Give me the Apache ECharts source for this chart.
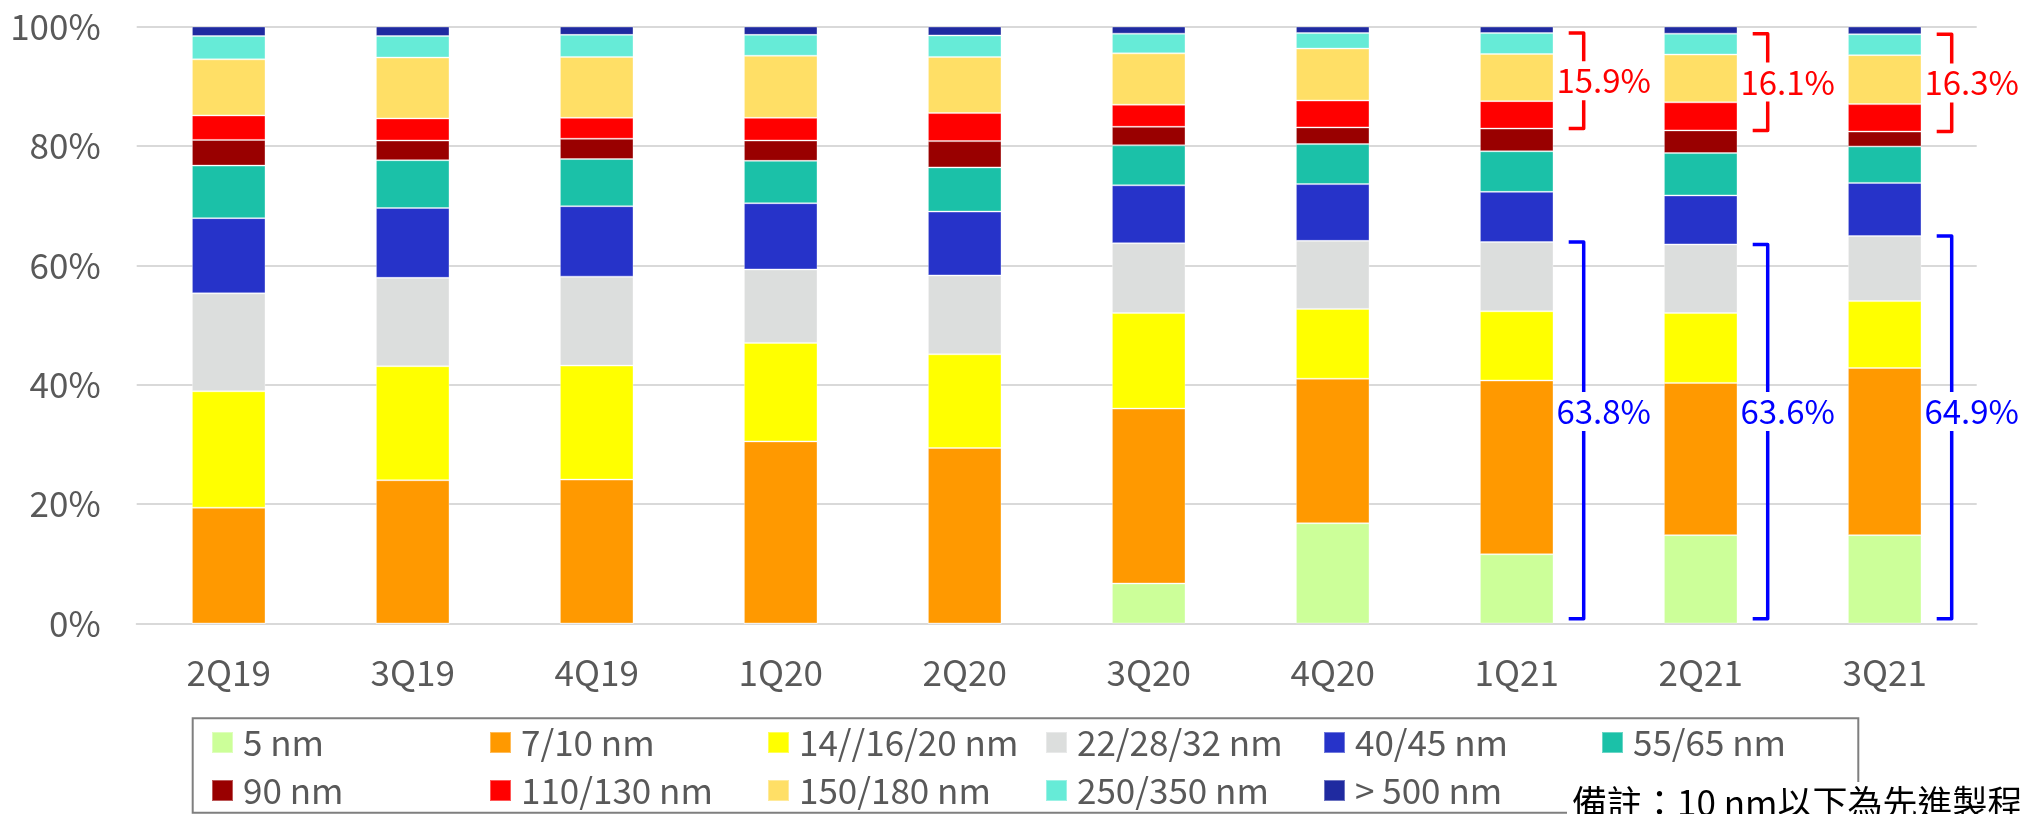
<!DOCTYPE html>
<html>
<head>
    <meta charset="utf-8">
    <title></title>
    <script src="https://cdn.jsdelivr.net/npm/echarts@6/dist/echarts.min.js"></script>
</head>
<body style="margin:0;background:#fff;">
<div id="main" style="width:2022px;height:814px;"></div>
<script type="text/javascript">
    // 季度
    var quarters = ['2Q19', '3Q19', '4Q19', '1Q20', '2Q20', '3Q20', '4Q20', '1Q21', '2Q21', '3Q21'];

    // 各製程占比 (%)
    var nm5      = [0, 0, 0, 0, 0, 6.7, 16.8, 11.6, 14.8, 14.8];
    var nm7_10   = [19.4, 24.0, 24.1, 30.5, 29.4, 29.3, 24.2, 29.1, 25.5, 28.0];
    var nm14_20  = [19.5, 19.1, 19.1, 16.5, 15.7, 16.0, 11.7, 11.6, 11.7, 11.2];
    var nm22_32  = [16.4, 14.8, 14.9, 12.3, 13.2, 11.7, 11.4, 11.6, 11.5, 10.9];
    var nm40_45  = [12.6, 11.7, 11.8, 11.1, 10.7, 9.7, 9.5, 8.4, 8.2, 8.9];
    var nm55_65  = [8.8, 8.0, 7.9, 7.1, 7.4, 6.7, 6.7, 6.8, 7.1, 6.1];
    var nm90     = [4.3, 3.3, 3.4, 3.4, 4.4, 3.1, 2.8, 3.8, 3.8, 2.5];
    var nm110_130 = [4.1, 3.7, 3.5, 3.8, 4.7, 3.7, 4.5, 4.6, 4.7, 4.6];
    var nm150_180 = [9.4, 10.2, 10.2, 10.4, 9.4, 8.6, 8.7, 7.9, 8.0, 8.2];
    var nm250_350 = [3.9, 3.6, 3.7, 3.5, 3.6, 3.3, 2.6, 3.5, 3.5, 3.5];
    var nm500    = [1.6, 1.6, 1.4, 1.4, 1.5, 1.2, 1.1, 1.1, 1.2, 1.3];

    var seriesNames = ['5 nm', '7/10 nm', '14//16/20 nm', '22/28/32 nm', '40/45 nm', '55/65 nm',
        '90 nm', '110/130 nm', '150/180 nm', '250/350 nm', '> 500 nm'];
    var seriesData = [nm5, nm7_10, nm14_20, nm22_32, nm40_45, nm55_65, nm90, nm110_130, nm150_180, nm250_350, nm500];

    // 括號標註
    var noteQuarters = ['1Q21', '2Q21', '3Q21'];
    var advancedText = ['63.8%', '63.6%', '64.9%'];   // 22nm以下合計
    var matureText = ['15.9%', '16.1%', '16.3%'];     // 110~350nm合計

    var colors = ['#CCFF99', '#FF9900', '#FFFF00', '#DCDEDD', '#2633C9', '#1BC1A8',
        '#990000', '#FF0000', '#FFDF66', '#66EBD7', '#1F2AA0'];

    var font = '"Noto Sans CJK TC", "Noto Sans", sans-serif';

    function cum(i, upto) {
        var s = 0;
        for (var k = 0; k < upto; k++) s += seriesData[k][i];
        return s;
    }

    var blueData = noteQuarters.map(function (q) {
        var i = quarters.indexOf(q);
        return [i, 0.8, cum(i, 4), 35.5];
    });
    var redData = noteQuarters.map(function (q) {
        var i = quarters.indexOf(q);
        var lo = cum(i, 7), hi = cum(i, 10);
        return [i, lo, hi, (lo + hi) / 2];
    });

    function bracket(color, labels) {
        return function (params, api) {
            var c = api.value(0);
            var pLo = api.coord([c, api.value(1)]);
            var pHi = api.coord([c, api.value(2)]);
            var pT = api.coord([c, api.value(3)]);
            var x = pLo[0] + 67;
            return {
                type: 'group',
                children: [{
                    type: 'polyline',
                    shape: { points: [[x - 15, pHi[1]], [x, pHi[1]], [x, pLo[1]], [x - 15, pLo[1]]] },
                    style: { stroke: color, lineWidth: 3.5, fill: null, lineJoin: 'round' }
                }, {
                    type: 'text',
                    x: pLo[0] + 87,
                    y: pT[1],
                    style: {
                        text: labels[params.dataIndex],
                        fill: color,
                        fontSize: 33,
                        fontFamily: font,
                        align: 'center',
                        verticalAlign: 'middle',
                        backgroundColor: '#fff',
                        padding: [3, 0]
                    }
                }]
            };
        };
    }

    var series = seriesNames.map(function (name, k) {
        return {
            name: name,
            type: 'bar',
            stack: 'total',
            barWidth: '40%',
            itemStyle: { color: colors[k], borderColor: 'rgba(255,255,255,0.35)', borderWidth: 1 },
            data: seriesData[k]
        };
    });
    series.push({
        type: 'custom', name: 'advanced', z: 10, silent: true,
        renderItem: bracket('#0000FF', advancedText),
        encode: { x: 0, y: [1, 2] },
        data: blueData
    });
    series.push({
        type: 'custom', name: 'mature', z: 10, silent: true,
        renderItem: bracket('#FF0000', matureText),
        encode: { x: 0, y: [1, 2] },
        data: redData
    });

    var myChart = echarts.init(document.getElementById('main'));
    myChart.setOption({
        animation: false,
        textStyle: { fontFamily: font },
        grid: { left: 136.7, right: 45.3, top: 26.5, bottom: 190.5, containLabel: false },
        xAxis: {
            type: 'category',
            data: quarters,
            axisLine: { lineStyle: { color: '#d9d9d9', width: 2 } },
            axisTick: { show: false },
            axisLabel: { fontSize: 35, color: '#595959', margin: 32, fontFamily: font }
        },
        yAxis: {
            type: 'value',
            min: 0,
            max: 100,
            interval: 20,
            axisLine: { show: false },
            axisTick: { show: false },
            splitLine: { lineStyle: { color: '#d9d9d9', width: 2 } },
            axisLabel: { formatter: '{value}%', fontSize: 35, color: '#595959', margin: 36, fontFamily: font }
        },
        legend: {
            data: seriesNames,
            left: 211,
            top: 718.5,
            width: 1680,
            padding: 0,
            itemGap: 0,
            itemWidth: 21,
            itemHeight: 21,
            icon: 'rect',
            textStyle: {
                fontSize: 35, color: '#595959', fontFamily: font,
                width: 246, lineHeight: 48, padding: [0, 0, 0, 5]
            }
        },
        graphic: [{
            type: 'rect',
            shape: { x: 192.7, y: 718.3, width: 1665.6, height: 94.4 },
            style: { fill: null, stroke: '#7f7f7f', lineWidth: 2 },
            silent: true
        }, {
            type: 'rect',
            shape: { x: 1567, y: 782, width: 460, height: 40 },
            style: { fill: '#fff' },
            silent: true
        }, {
            type: 'text',
            x: 1572,
            y: 785,
            style: {
                text: '備註：10 nm以下為先進製程',
                fill: '#000',
                fontSize: 35,
                fontFamily: font,
                verticalAlign: 'top'
            },
            silent: true
        }],
        series: series
    });
</script>
</body>
</html>
